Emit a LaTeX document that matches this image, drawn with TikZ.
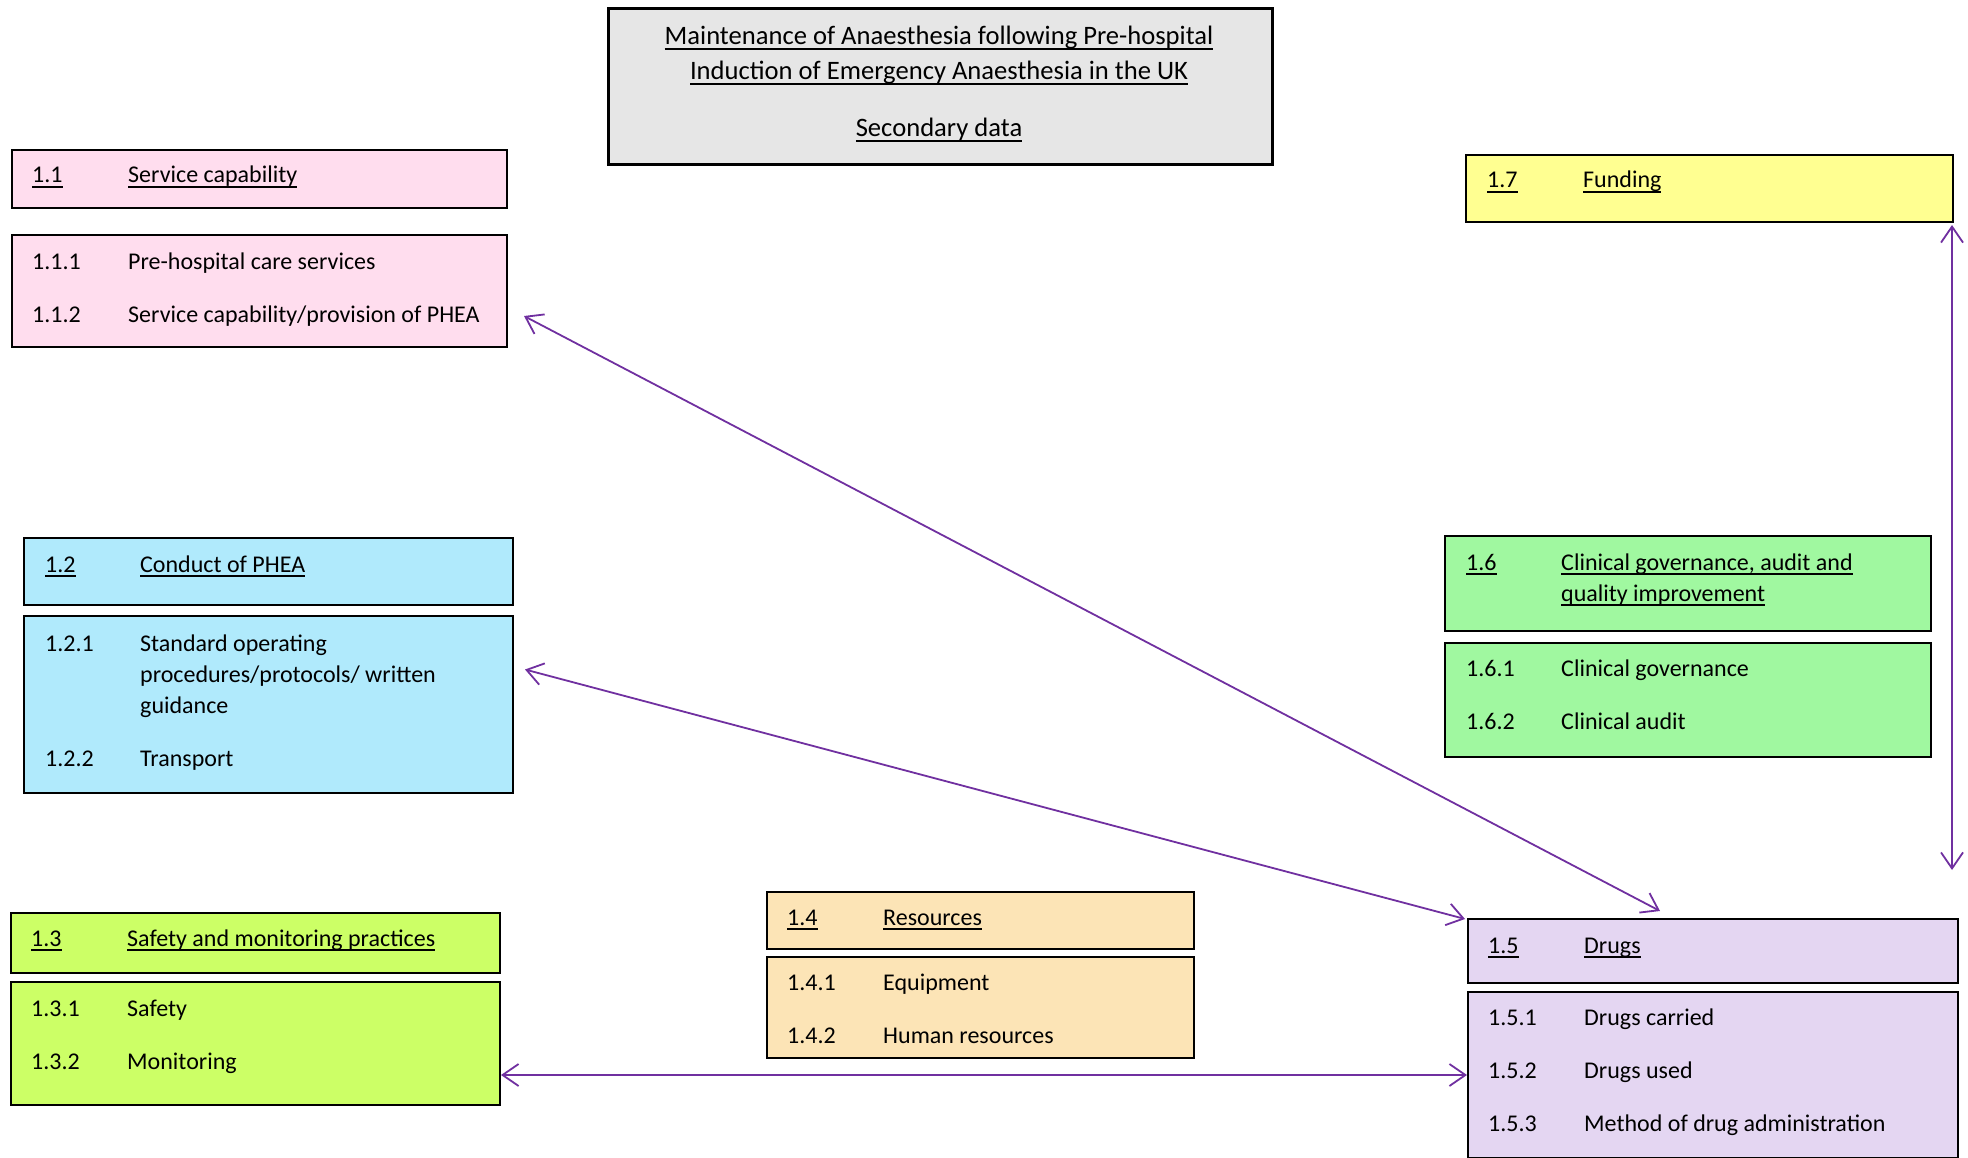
\documentclass[tikz,border=0pt]{standalone}
\usepackage{fontspec}
\setmainfont{Carlito}
\usetikzlibrary{arrows.meta,calc}
\definecolor{pinkbox}{RGB}{255,221,238}
\definecolor{bluebox}{RGB}{176,234,252}
\definecolor{limebox}{RGB}{204,255,102}
\definecolor{orangebox}{RGB}{252,228,182}
\definecolor{lavbox}{RGB}{228,214,242}
\definecolor{greenbox}{RGB}{160,248,160}
\definecolor{yellowbox}{RGB}{255,255,145}
\definecolor{graybox}{RGB}{230,230,230}
\definecolor{arrowpurple}{RGB}{112,48,160}
\newcommand\myul[1]{\setbox0\hbox{#1}\rlap{\rule[-5pt]{\wd0}{1.8pt}}\box0}
\tikzset{
  box/.style={draw=black, line width=2pt, rectangle, inner sep=0pt, anchor=north west},
  txt/.style={inner sep=0pt, anchor=base west, font=\fontsize{24pt}{31pt}\selectfont},
  ttl/.style={inner sep=0pt, anchor=base, font=\fontsize{26.6pt}{34pt}\selectfont},
  arr/.style={draw=arrowpurple, line width=1.8pt,
    {Straight Barb[length=16pt,width=22pt]}-{Straight Barb[length=16pt,width=22pt]}}
}
\begin{document}
\begin{tikzpicture}[x=1pt,y=-1pt]
\useasboundingbox (0,0) rectangle (1968,1158);
% title
\node[box, line width=2.8pt, fill=graybox, minimum width=664pt, minimum height=156pt] (title) at (607,7) {};
\node[ttl] (tl1) at (939,45) {\myul{Maintenance of Anaesthesia following Pre-hospital}};
\node[ttl] (tl2) at (939,80) {\myul{Induction of Emergency Anaesthesia in the UK}};
\node[ttl] (tl3) at (939,137) {\myul{Secondary data}};
% 1.1
\node[box, fill=pinkbox, minimum width=495pt, minimum height=58pt] (h11) at (11,149) {};
\node[txt] (h11n) at (32,183) {\myul{1.1}};
\node[txt] (h11t) at (128,183) {\myul{Service capability}};
\node[box, fill=pinkbox, minimum width=495pt, minimum height=112pt] (c11) at (11,234) {};
\node[txt] (c111n) at (32,270) {1.1.1};
\node[txt] (c111t) at (128,270) {Pre-hospital care services};
\node[txt] (c112n) at (32,323) {1.1.2};
\node[txt] (c112t) at (128,323) {Service capability/provision of PHEA};
% 1.2
\node[box, fill=bluebox, minimum width=489pt, minimum height=67pt] (h12) at (23,537) {};
\node[txt] (h12n) at (45,572) {\myul{1.2}};
\node[txt] (h12t) at (140,572) {\myul{Conduct of PHEA}};
\node[box, fill=bluebox, minimum width=489pt, minimum height=177pt] (c12) at (23,615) {};
\node[txt] (c121n) at (45,651) {1.2.1};
\node[txt] (c121a) at (140,651) {Standard operating};
\node[txt] (c121b) at (140,682) {procedures/protocols/ written};
\node[txt] (c121c) at (140,713) {guidance};
\node[txt] (c122n) at (45,766) {1.2.2};
\node[txt] (c122t) at (140,766) {Transport};
% 1.3
\node[box, fill=limebox, minimum width=489pt, minimum height=60pt] (h13) at (10,912) {};
\node[txt] (h13n) at (31,946) {\myul{1.3}};
\node[txt] (h13t) at (127,946) {\myul{Safety and monitoring practices}};
\node[box, fill=limebox, minimum width=489pt, minimum height=123pt] (c13) at (10,981) {};
\node[txt] (c131n) at (31,1016) {1.3.1};
\node[txt] (c131t) at (127,1016) {Safety};
\node[txt] (c132n) at (31,1069) {1.3.2};
\node[txt] (c132t) at (127,1069) {Monitoring};
% 1.4
\node[box, fill=orangebox, minimum width=427pt, minimum height=57pt] (h14) at (766,891) {};
\node[txt] (h14n) at (787,925) {\myul{1.4}};
\node[txt] (h14t) at (883,925) {\myul{Resources}};
\node[box, fill=orangebox, minimum width=427pt, minimum height=101pt] (c14) at (766,956) {};
\node[txt] (c141n) at (787,990) {1.4.1};
\node[txt] (c141t) at (883,990) {Equipment};
\node[txt] (c142n) at (787,1043) {1.4.2};
\node[txt] (c142t) at (883,1043) {Human resources};
% 1.5
\node[box, fill=lavbox, minimum width=490pt, minimum height=64pt] (h15) at (1467,918) {};
\node[txt] (h15n) at (1488,953) {\myul{1.5}};
\node[txt] (h15t) at (1584,953) {\myul{Drugs}};
\node[box, fill=lavbox, minimum width=490pt, minimum height=166pt] (c15) at (1467,991) {};
\node[txt] (c151n) at (1488,1025) {1.5.1};
\node[txt] (c151t) at (1584,1025) {Drugs carried};
\node[txt] (c152n) at (1488,1078) {1.5.2};
\node[txt] (c152t) at (1584,1078) {Drugs used};
\node[txt] (c153n) at (1488,1131) {1.5.3};
\node[txt] (c153t) at (1584,1131) {Method of drug administration};
% 1.6
\node[box, fill=greenbox, minimum width=486pt, minimum height=95pt] (h16) at (1444,535) {};
\node[txt] (h16n) at (1466,570) {\myul{1.6}};
\node[txt] (h16a) at (1561,570) {\myul{Clinical governance, audit and}};
\node[txt] (h16b) at (1561,601) {\myul{quality improvement}};
\node[box, fill=greenbox, minimum width=486pt, minimum height=114pt] (c16) at (1444,642) {};
\node[txt] (c161n) at (1466,676) {1.6.1};
\node[txt] (c161t) at (1561,676) {Clinical governance};
\node[txt] (c162n) at (1466,729) {1.6.2};
\node[txt] (c162t) at (1561,729) {Clinical audit};
% 1.7
\node[box, fill=yellowbox, minimum width=487pt, minimum height=67pt] (h17) at (1465,154) {};
\node[txt] (h17n) at (1487,188) {\myul{1.7}};
\node[txt] (h17t) at (1583,188) {\myul{Funding}};
% connectors
\coordinate (a1s) at ($(c11.east)+(16,25)$);
\coordinate (a1e) at ($(h15.north)+(-53,-7)$);
\coordinate (a2s) at ($(c12.east)+(11,-35)$);
\coordinate (a2e) at ($(h15.north west)+(-2,1)$);
\coordinate (a4s) at ($(h17.south east)+(-2,2)$);
\coordinate (a4e) at ($(h15.north east)+(-7,-48)$);
\draw[arr] (a1s) -- (a1e);
\draw[arr] (a2s) -- (a2e);
\draw[arr] (c15.west -| c13.east) -- (c15.west);
\draw[arr] (a4s) -- (a4e);
\end{tikzpicture}
\end{document}
